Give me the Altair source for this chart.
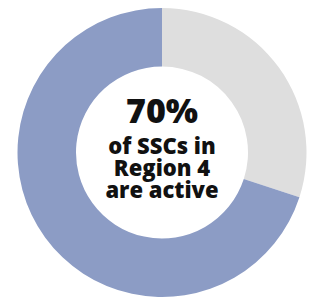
import altair as alt
import pandas as pd

categories = ["Not active", "Active"]
values = [30, 70]
colors = ["#DEDEDE", "#8C9CC5"]
order = [0, 1]

headline = ["70%"]
caption_lines = ["of SSCs in", "Region 4", "are active"]

df = pd.DataFrame({"category": categories, "value": values, "order": order})

W, H = 300, 291
cx, cy = 154, 144.5

donut = alt.Chart(df).mark_arc(outerRadius=144.5, innerRadius=86, stroke=None).encode(
    theta=alt.Theta("value:Q", stack=True),
    order=alt.Order("order:Q"),
    color=alt.Color("category:N", scale=alt.Scale(domain=categories, range=colors), legend=None),
    x=alt.value(cx),
    y=alt.value(cy),
)

big = alt.Chart(pd.DataFrame({"t": headline})).mark_text(
    font="Open Sans", fontWeight=800, fontSize=34, color="#111111", baseline="alphabetic", align="center"
).encode(text="t:N", x=alt.value(cx), y=alt.value(115))

small = alt.Chart(pd.DataFrame({"t": [caption_lines]})).mark_text(
    font="Open Sans", fontWeight=800, fontSize=22, color="#111111", baseline="alphabetic",
    align="center", lineHeight=22
).encode(text="t", x=alt.value(cx), y=alt.value(146))

chart = alt.layer(donut, big, small).properties(
    width=W, height=H, padding=0, autosize=alt.AutoSizeParams(type="none")
).configure_view(stroke=None)

chart.save("out.html", embed_options={"renderer": "svg", "actions": False})
